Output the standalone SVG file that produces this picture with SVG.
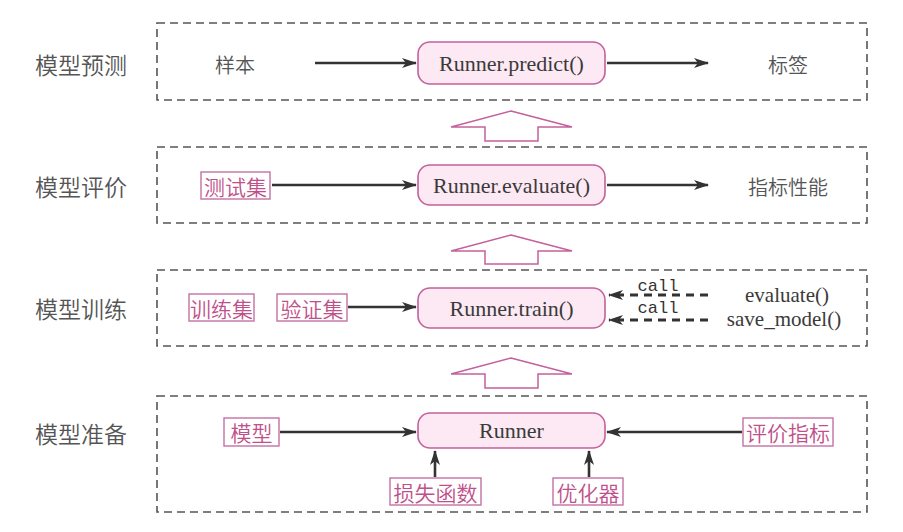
<svg xmlns="http://www.w3.org/2000/svg" width="903" height="532" viewBox="0 0 903 532">
<defs>
<marker id="ah" markerWidth="15" markerHeight="11" refX="14" refY="5.5" orient="auto" markerUnits="userSpaceOnUse">
<path d="M0,0.5 L15,5.5 L0,10.5 L4,5.5 Z" fill="#333"/>
</marker>
</defs>
<style>
.panel{fill:none;stroke:#555;stroke-width:1.6;stroke-dasharray:8 5}
.runner{fill:#fce9f3;stroke:#c4609c;stroke-width:1.6}
.rt{font-family:"Liberation Serif",serif;font-size:22px;fill:#3a3a3a;text-anchor:middle;dominant-baseline:central}
.et{font-family:"Liberation Serif",serif;font-size:21px;fill:#3a3a3a;text-anchor:middle;dominant-baseline:central}
.side{font-family:"Noto Sans CJK SC",sans-serif;font-size:23px;fill:#555;text-anchor:middle;dominant-baseline:central;font-weight:350}
.plain{font-family:"Noto Sans CJK SC",sans-serif;font-size:20px;fill:#555;text-anchor:middle;dominant-baseline:central;font-weight:350}
.lbox{fill:#fff;stroke:#c77aa8;stroke-width:1.5}
.lt{font-family:"Noto Sans CJK SC",sans-serif;font-size:21px;fill:#c0508a;text-anchor:middle;dominant-baseline:central;font-weight:350}
.call{font-family:"Liberation Mono",monospace;font-size:17px;fill:#333;text-anchor:middle}
.block{fill:#fff;stroke:#c4609c;stroke-width:1.5;stroke-linejoin:miter}
.conn{stroke:#333;stroke-width:2.6;fill:none}
.dconn{stroke:#333;stroke-width:3;fill:none;stroke-dasharray:8 6}
</style>

<g id="side-labels">
<text class="side" x="81" y="64">模型预测</text>
<text class="side" x="81" y="186">模型评价</text>
<text class="side" x="81" y="308">模型训练</text>
<text class="side" x="81" y="433">模型准备</text>
</g>

<g id="panels">
<rect class="panel" x="157" y="23" width="710" height="77"/>
<rect class="panel" x="157" y="147" width="710" height="76"/>
<rect class="panel" x="157" y="270" width="710" height="76"/>
<rect class="panel" x="157" y="396" width="710" height="116"/>
</g>

<g id="stage-arrows">
<path class="block" d="M511,111 L572,127 L538,127 L538,141 L485,141 L485,127 L451,127 Z"/>
<path class="block" d="M511,235 L572,251 L538,251 L538,264 L485,264 L485,251 L451,251 Z"/>
<path class="block" d="M511,358 L572,374 L538,374 L538,388 L485,388 L485,374 L451,374 Z"/>
</g>

<g id="connectors">
<line class="conn" x1="315" y1="63" x2="416" y2="63" marker-end="url(#ah)"/>
<line class="conn" x1="607" y1="63" x2="708" y2="63" marker-end="url(#ah)"/>
<line class="conn" x1="272" y1="185" x2="416" y2="185" marker-end="url(#ah)"/>
<line class="conn" x1="607" y1="185" x2="708" y2="185" marker-end="url(#ah)"/>
<line class="conn" x1="348" y1="307" x2="416" y2="307" marker-end="url(#ah)"/>
<line class="dconn" x1="708" y1="295" x2="609" y2="295" marker-end="url(#ah)"/>
<line class="dconn" x1="708" y1="320" x2="609" y2="320" marker-end="url(#ah)"/>
<line class="conn" x1="280" y1="432" x2="416" y2="432" marker-end="url(#ah)"/>
<line class="conn" x1="742" y1="432" x2="607" y2="432" marker-end="url(#ah)"/>
<line class="conn" x1="435" y1="477" x2="435" y2="451" marker-end="url(#ah)"/>
<line class="conn" x1="589" y1="477" x2="589" y2="451" marker-end="url(#ah)"/>
</g>

<g id="predict-row">
<g id="sample"><text class="plain" x="235" y="64">样本</text></g>
<g id="runner-predict"><rect class="runner" x="418" y="42" width="187" height="42" rx="12"/><text class="rt" x="511.5" y="63">Runner.predict()</text></g>
<g id="label"><text class="plain" x="788" y="64">标签</text></g>
</g>

<g id="evaluate-row">
<g id="testset"><rect class="lbox" x="201" y="172" width="69" height="27"/><text class="lt" x="235.5" y="185.5">测试集</text></g>
<g id="runner-evaluate"><rect class="runner" x="418" y="165" width="187" height="40" rx="12"/><text class="rt" x="511.5" y="185">Runner.evaluate()</text></g>
<g id="metrics-perf"><text class="plain" x="788" y="186">指标性能</text></g>
</g>

<g id="train-row">
<g id="trainset"><rect class="lbox" x="189" y="294" width="65" height="27"/><text class="lt" x="221.5" y="307.5">训练集</text></g>
<g id="valset"><rect class="lbox" x="277" y="294" width="70" height="27"/><text class="lt" x="312" y="307.5">验证集</text></g>
<g id="runner-train"><rect class="runner" x="418" y="288" width="187" height="40" rx="12"/><text class="rt" x="511.5" y="308">Runner.train()</text></g>
<text class="call" x="658" y="291">call</text>
<text class="call" x="658" y="313">call</text>
<g id="evaluate-fn"><text class="et" x="787" y="295">evaluate()</text></g>
<g id="save-model-fn"><text class="et" x="784" y="319">save_model()</text></g>
</g>

<g id="prepare-row">
<g id="model"><rect class="lbox" x="224" y="418" width="55" height="28"/><text class="lt" x="251.5" y="432">模型</text></g>
<g id="runner"><rect class="runner" x="418" y="413" width="187" height="35" rx="12"/><text class="rt" x="511.5" y="430.5">Runner</text></g>
<g id="metric"><rect class="lbox" x="743" y="418" width="90" height="28"/><text class="lt" x="788" y="432">评价指标</text></g>
<g id="loss"><rect class="lbox" x="390" y="478" width="91" height="27"/><text class="lt" x="435.5" y="491.5">损失函数</text></g>
<g id="optimizer"><rect class="lbox" x="553" y="478" width="70" height="27"/><text class="lt" x="588" y="491.5">优化器</text></g>
</g>
</svg>
